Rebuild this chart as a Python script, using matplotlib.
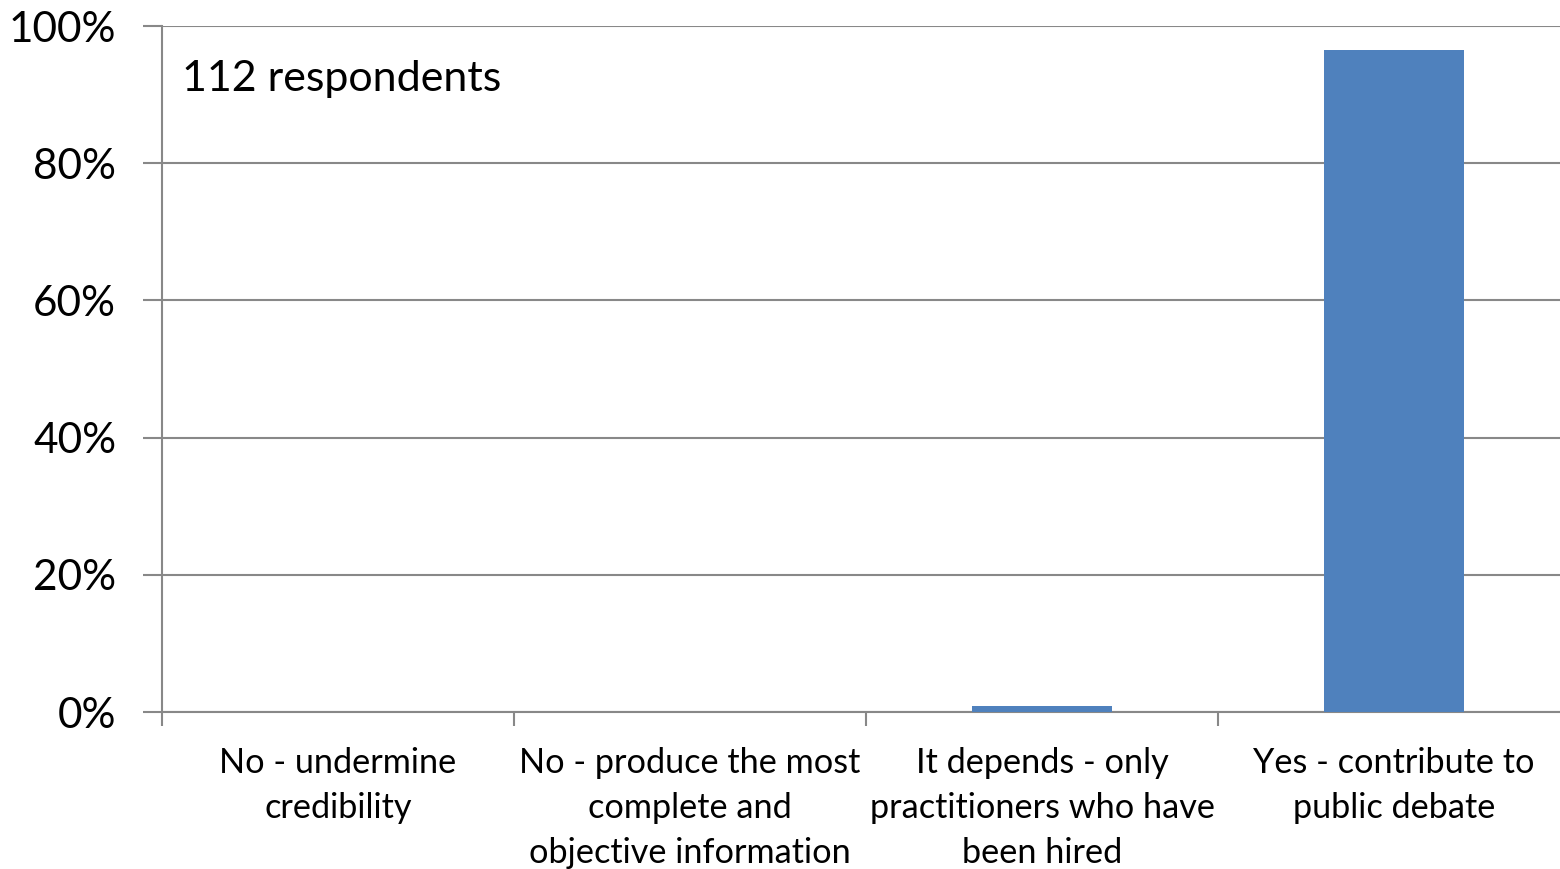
import numpy as np
import matplotlib.pyplot as plt
from matplotlib.ticker import PercentFormatter

# survey answers (share of respondents, %)
categories = ['No - undermine\ncredibility',
              'No - produce the most\ncomplete and\nobjective information',
              'It depends - only\npractitioners who have\nbeen hired',
              'Yes - contribute to\npublic debate']
shares = [0.0, 0.0, 0.89, 96.43]
n_respondents = 112

plt.rcParams['font.family'] = ['Lato', 'DejaVu Sans']

fig = plt.figure(figsize=(15.6, 8.69), dpi=100, facecolor='w')
ax = fig.add_axes([162/1560, 1-712/869, 1408/1560, 686/869])

x = np.arange(len(categories))
ax.bar(x, shares, width=0.4, color='#4F81BD', zorder=3)

ax.set_xlim(-0.5, len(categories) - 0.5)
ax.set_ylim(0, 100)
ax.set_yticks(np.arange(0, 101, 20))
ax.yaxis.set_major_formatter(PercentFormatter(decimals=0))
ax.grid(axis='y', color='#888888', linewidth=1.5, zorder=0)

# category boundaries as x ticks, labels centred under bars
ax.set_xticks(np.arange(-0.5, len(categories) - 0.5, 1.0))
ax.set_xticklabels([])
ax.set_xticks(x, minor=True)
ax.set_xticklabels(categories, minor=True, fontsize=24.7, linespacing=1.5)
ax.tick_params(axis='x', which='minor', length=0, pad=25)
ax.tick_params(axis='x', which='major', length=10, width=1.5, color='#888888', direction='out')
ax.tick_params(axis='y', length=14, width=1.5, color='#888888', labelsize=30.5, pad=19)

for s in ['top', 'right']:
    ax.spines[s].set_visible(False)
for s in ['left', 'bottom']:
    ax.spines[s].set_color('#888888')
    ax.spines[s].set_linewidth(1.5)

ax.text(20/1408, 0.923, f'{n_respondents} respondents', transform=ax.transAxes,
        fontsize=31, va='center', ha='left')

plt.savefig('out.png', dpi=100)
